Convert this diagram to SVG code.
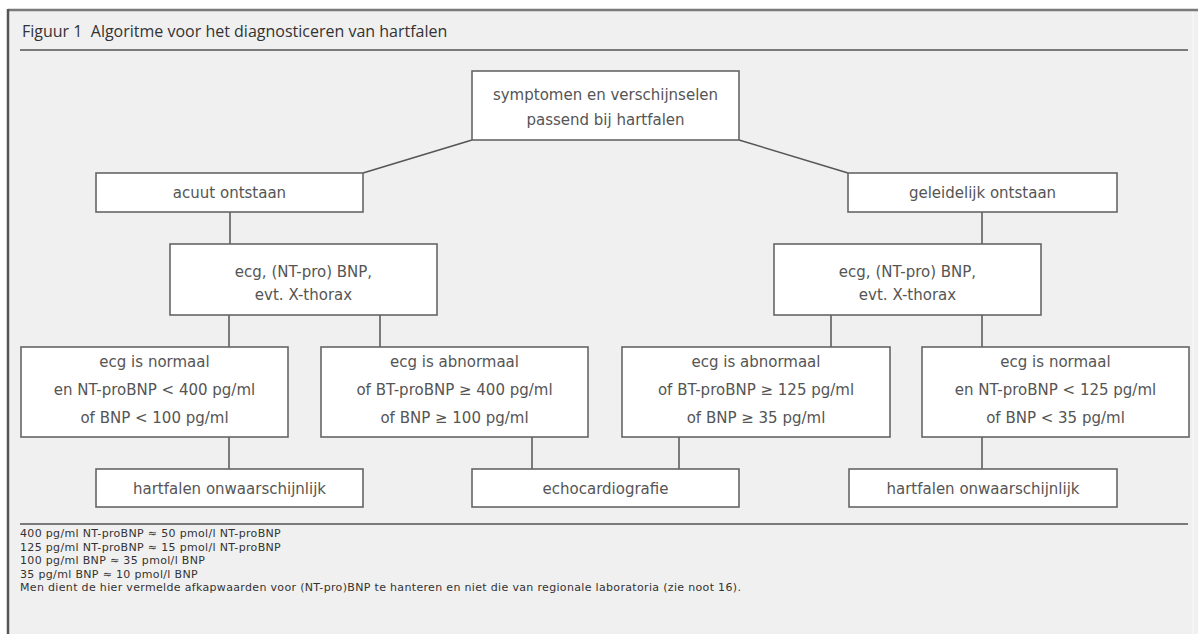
<svg xmlns="http://www.w3.org/2000/svg" width="1198" height="634" viewBox="0 0 1198 634">
<style>
.box{fill:#ffffff;stroke:#666666;stroke-width:1.6}
.t{font-family:"DejaVu Sans",sans-serif;font-size:15px;fill:#555555;text-anchor:middle}
.conn line{stroke:#555555;stroke-width:1.5}
.title{font-family:"Open Sans",Lato,sans-serif;font-size:16px;fill:#333333}
.note{font-family:"DejaVu Sans",sans-serif;font-size:11px;letter-spacing:0.33px;fill:#333333}
.rule{stroke:#7a7a7a;stroke-width:2}
</style>
<rect x="0" y="0" width="1198" height="634" fill="#ffffff"/>
<rect x="8" y="10" width="1190" height="624" fill="#f0f0f0"/>
<line x1="8" y1="10" x2="1198" y2="10" stroke="#7a7a7a" stroke-width="2.5"/>
<line x1="8" y1="9" x2="8" y2="634" stroke="#555555" stroke-width="2.5"/>
<line x1="1193" y1="12" x2="1193" y2="634" stroke="#fafafa" stroke-width="1"/>
<text class="title" x="22" y="37">Figuur 1&#160;&#160;Algoritme voor het diagnosticeren van hartfalen</text>
<line class="rule" x1="20" y1="50" x2="1188" y2="50"/>
<line class="rule" x1="20" y1="524" x2="1188" y2="524"/>
<g id="connectors" class="conn">
<line x1="472" y1="140" x2="363" y2="173"/>
<line x1="739" y1="140" x2="848" y2="173"/>
<line x1="230" y1="212" x2="230" y2="244"/>
<line x1="982" y1="212" x2="982" y2="244"/>
<line x1="229" y1="315" x2="229" y2="347"/>
<line x1="380" y1="315" x2="380" y2="347"/>
<line x1="831" y1="315" x2="831" y2="347"/>
<line x1="982" y1="315" x2="982" y2="347"/>
<line x1="229" y1="437" x2="229" y2="469"/>
<line x1="532" y1="437" x2="532" y2="469"/>
<line x1="679" y1="437" x2="679" y2="469"/>
<line x1="982" y1="437" x2="982" y2="469"/>
</g>
<g id="n-symptomen"><rect class="box" x="472" y="71" width="267" height="69"/>
<text class="t" x="605.5" y="100">symptomen en verschijnselen</text>
<text class="t" x="605.5" y="125">passend bij hartfalen</text></g>
<g id="n-acuut"><rect class="box" x="96" y="173" width="267" height="39"/>
<text class="t" x="229.5" y="198">acuut ontstaan</text></g>
<g id="n-geleidelijk"><rect class="box" x="848" y="173" width="269" height="39"/>
<text class="t" x="982.5" y="198">geleidelijk ontstaan</text></g>
<g id="n-ecg-left"><rect class="box" x="170" y="244" width="267" height="71"/>
<text class="t" x="303.5" y="277">ecg, (NT-pro) BNP,</text>
<text class="t" x="303.5" y="300">evt. X-thorax</text></g>
<g id="n-ecg-right"><rect class="box" x="774" y="244" width="267" height="71"/>
<text class="t" x="907.5" y="277">ecg, (NT-pro) BNP,</text>
<text class="t" x="907.5" y="300">evt. X-thorax</text></g>
<g id="n-normaal-left"><rect class="box" x="21" y="347" width="267" height="90"/>
<text class="t" x="154.5" y="367">ecg is normaal</text>
<text class="t" x="154.5" y="395">en NT-proBNP &lt; 400 pg/ml</text>
<text class="t" x="154.5" y="423">of BNP &lt; 100 pg/ml</text></g>
<g id="n-abnormaal-left"><rect class="box" x="321" y="347" width="267" height="90"/>
<text class="t" x="454.5" y="367">ecg is abnormaal</text>
<text class="t" x="454.5" y="395">of BT-proBNP ≥ 400 pg/ml</text>
<text class="t" x="454.5" y="423">of BNP ≥ 100 pg/ml</text></g>
<g id="n-abnormaal-right"><rect class="box" x="622" y="347" width="268" height="90"/>
<text class="t" x="756" y="367">ecg is abnormaal</text>
<text class="t" x="756" y="395">of BT-proBNP ≥ 125 pg/ml</text>
<text class="t" x="756" y="423">of BNP ≥ 35 pg/ml</text></g>
<g id="n-normaal-right"><rect class="box" x="922" y="347" width="267" height="90"/>
<text class="t" x="1055.5" y="367">ecg is normaal</text>
<text class="t" x="1055.5" y="395">en NT-proBNP &lt; 125 pg/ml</text>
<text class="t" x="1055.5" y="423">of BNP &lt; 35 pg/ml</text></g>
<g id="n-onwaarschijnlijk-left"><rect class="box" x="96" y="469" width="267" height="38"/>
<text class="t" x="229.5" y="494">hartfalen onwaarschijnlijk</text></g>
<g id="n-echo"><rect class="box" x="472" y="469" width="267" height="38"/>
<text class="t" x="605.5" y="494">echocardiografie</text></g>
<g id="n-onwaarschijnlijk-right"><rect class="box" x="849" y="469" width="268" height="38"/>
<text class="t" x="983" y="494">hartfalen onwaarschijnlijk</text></g>
<g id="notes">
<text class="note" x="20" y="537">400 pg/ml NT-proBNP ≈ 50 pmol/l NT-proBNP</text>
<text class="note" x="20" y="550.5">125 pg/ml NT-proBNP ≈ 15 pmol/l NT-proBNP</text>
<text class="note" x="20" y="564">100 pg/ml BNP ≈ 35 pmol/l BNP</text>
<text class="note" x="20" y="577.5">35 pg/ml BNP ≈ 10 pmol/l BNP</text>
<text class="note" x="20" y="591">Men dient de hier vermelde afkapwaarden voor (NT-pro)BNP te hanteren en niet die van regionale laboratoria (zie noot 16).</text>
</g>
</svg>
